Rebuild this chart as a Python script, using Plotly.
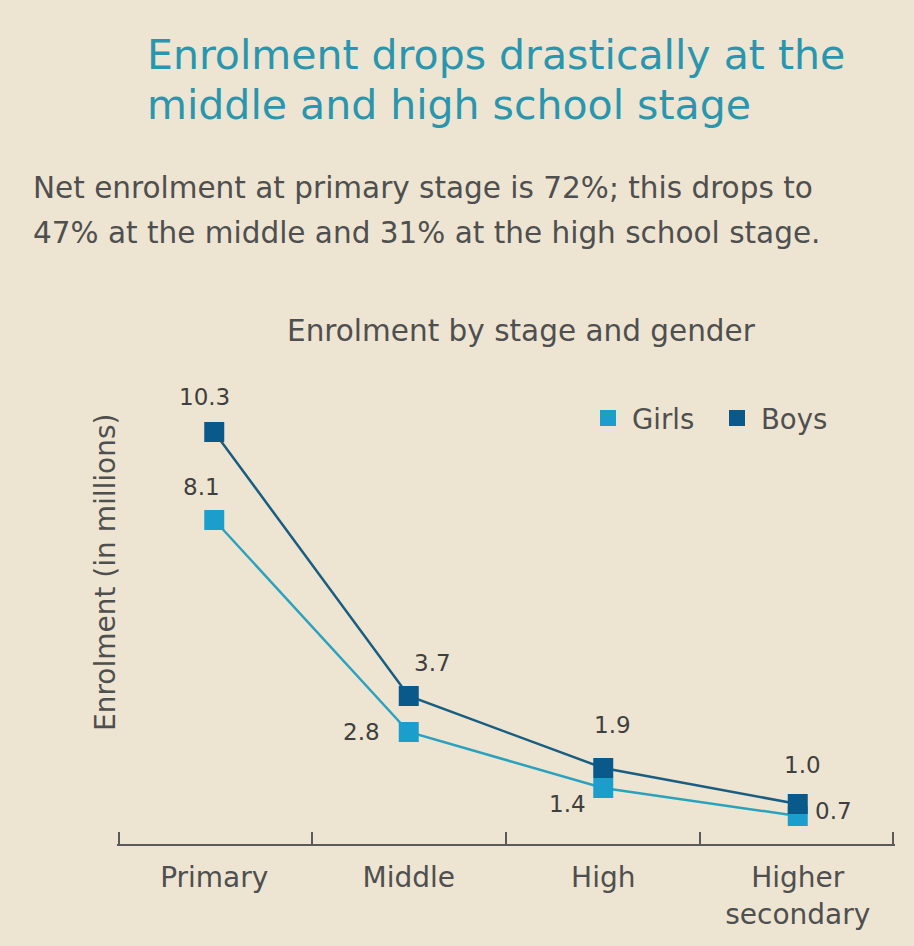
import plotly.graph_objects as go

stages = ["Primary", "Middle", "High", "Higher<br>secondary"]
girls = [8.1, 2.8, 1.4, 0.7]
boys = [10.3, 3.7, 1.9, 1.0]

title_lines = ["Enrolment drops drastically at the", "middle and high school stage"]
subtitle_lines = ["Net enrolment at primary stage is 72%; this drops to",
                  "47% at the middle and 31% at the high school stage."]
chart_title = "Enrolment by stage and gender"
y_title = "Enrolment (in millions)"

BG = "#EDE5D2"
GIRLS_C = "#1C9ECD"
BOYS_C = "#09598B"
TEXT_C = "#4F4F4F"
FONT = "DejaVu Sans"

# plot area in pixels
W, H = 914, 946
L, R, T, B = 117, 19, 380, 102
PW, PH = W - L - R, H - T - B


def px(x):
    return (x - L) / PW


def py(y):
    return (H - B - y) / PH


fig = go.Figure()

fig.add_trace(go.Scatter(
    x=stages, y=girls, mode="lines+markers", name="Girls",
    line=dict(color="#2BA2BD", width=2.5),
    marker=dict(symbol="square", size=20, color=GIRLS_C),
    showlegend=False, hoverinfo="x+y",
))
fig.add_trace(go.Scatter(
    x=stages, y=boys, mode="lines+markers", name="Boys",
    line=dict(color="#195D80", width=2.5),
    marker=dict(symbol="square", size=20, color=BOYS_C),
    showlegend=False, hoverinfo="x+y",
))
# legend entries shown as plain squares
for name, col in [("Girls", GIRLS_C), ("Boys", BOYS_C)]:
    fig.add_trace(go.Scatter(
        x=[None], y=[None], mode="markers", name=name,
        marker=dict(symbol="square", size=21, color=col),
    ))

# value labels: pixel offsets (dx, dy) from each point
girls_off = [(-13, 33), (-47, 0), (-36, -16), (36, 5)]
boys_off = [(-10, 35), (24, 33), (9, 43), (5, 39)]
for vals, offs in [(girls, girls_off), (boys, boys_off)]:
    for s, v, (dx, dy) in zip(stages, vals, offs):
        fig.add_annotation(
            x=s, y=v, text=f"{v:.1f}", showarrow=False,
            xshift=dx, yshift=dy,
            font=dict(family=FONT, size=23, color="#3F3F3F"),
        )

# headline
for i, line in enumerate(title_lines):
    fig.add_annotation(
        xref="paper", yref="paper", x=px(145), y=py(55 + 50 * i),
        xanchor="left", yanchor="middle", showarrow=False, text=line,
        font=dict(family=FONT, size=41, color="#2A96AD"),
    )
# subtitle
for i, line in enumerate(subtitle_lines):
    fig.add_annotation(
        xref="paper", yref="paper", x=px(31), y=py(188 + 45 * i),
        xanchor="left", yanchor="middle", showarrow=False, text=line,
        font=dict(family=FONT, size=29.5, color=TEXT_C),
    )
# chart title
fig.add_annotation(
    xref="paper", yref="paper", x=px(521), y=py(331),
    xanchor="center", yanchor="middle", showarrow=False, text=chart_title,
    font=dict(family=FONT, size=29.5, color=TEXT_C),
)
# y-axis title
fig.add_annotation(
    xref="paper", yref="paper", x=px(105), y=py(572),
    xanchor="center", yanchor="middle", showarrow=False, text=y_title,
    textangle=-90,
    font=dict(family=FONT, size=28, color=TEXT_C),
)

# stage boundaries, including both ends of the axis
boundaries = [-0.5, 0.5, 1.5, 2.5, 3.5]

fig.update_layout(
    width=W, height=H,
    paper_bgcolor=BG, plot_bgcolor=BG,
    margin=dict(l=L, r=R, t=T, b=B),
    font=dict(family=FONT, color=TEXT_C),
    showlegend=True,
    legend=dict(
        orientation="h", x=px(584), y=py(418),
        xanchor="left", yanchor="middle",
        font=dict(family=FONT, size=27.5, color=TEXT_C),
        bgcolor="rgba(0,0,0,0)", itemwidth=38,
        entrywidth=76, entrywidthmode="pixels",
    ),
    xaxis=dict(
        type="category", range=[-0.5, 3.5],
        showgrid=False, zeroline=False,
        showline=True, linecolor="#5A5A5A", linewidth=1.5,
        ticks="", tickfont=dict(family=FONT, size=28, color=TEXT_C),
        ticklabelstandoff=8,
        fixedrange=True,
    ),
    xaxis2=dict(
        overlaying="x", anchor="y", side="bottom",
        range=[-0.51, 3.51], tickmode="array", tickvals=boundaries,
        ticks="inside", ticklen=12, tickcolor="#5A5A5A", tickwidth=1.5,
        showticklabels=False, showgrid=False, zeroline=False,
        showline=False, fixedrange=True,
    ),
    yaxis=dict(
        range=[0, 11.6], showgrid=False, zeroline=False,
        showline=False, showticklabels=False, ticks="",
        fixedrange=True,
    ),
)
# an empty trace keeps the boundary-tick axis drawn
fig.add_trace(go.Scatter(x=[None], y=[None], xaxis="x2", showlegend=False,
                         hoverinfo="skip"))

fig.write_html("out.html")
